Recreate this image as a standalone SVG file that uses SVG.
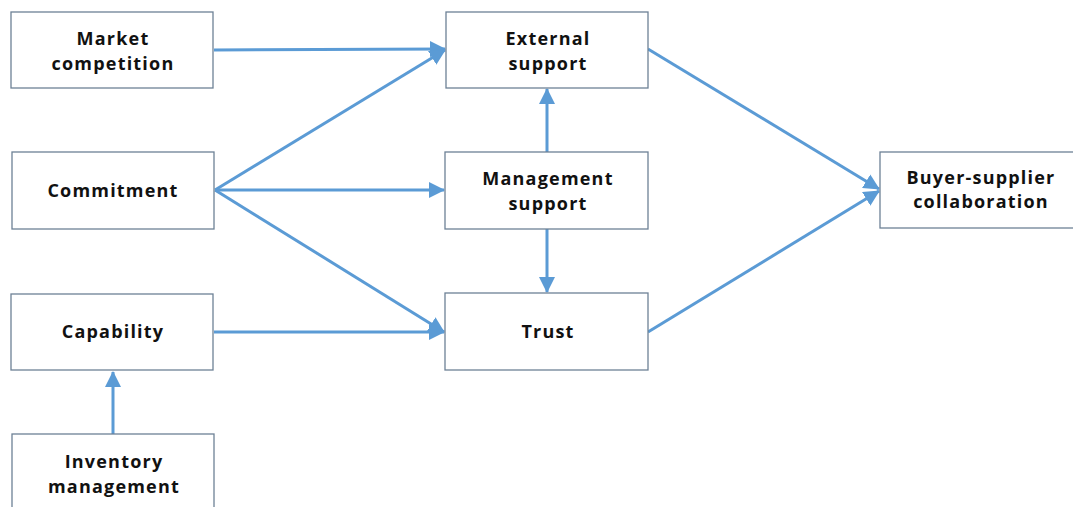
<svg xmlns="http://www.w3.org/2000/svg" width="1073" height="507" viewBox="0 0 1073 507">
  <style>
    .box { fill: #ffffff; stroke: #6d8196; stroke-width: 1.3; }
    .lbl { font-family: "Open Sans", "Liberation Sans", sans-serif; font-weight: bold; font-size: 18px; letter-spacing: 1.2px; fill: #111111; text-anchor: middle; }
    .edge { fill: none; stroke: #5b9bd5; stroke-width: 3; marker-end: url(#arrow); }
  </style>
  <defs>
    <marker id="arrow" markerUnits="userSpaceOnUse" markerWidth="16" markerHeight="16" refX="15" refY="8" orient="auto">
      <path d="M0,0 L16,8 L0,16 Z" fill="#5b9bd5"/>
    </marker>
  </defs>
  <rect width="1073" height="507" fill="#ffffff"/>

  <g id="connectors">
    <line class="edge" x1="214" y1="50" x2="445" y2="49"/>
    <line class="edge" x1="215" y1="190" x2="445" y2="50"/>
    <line class="edge" x1="215" y1="190" x2="444" y2="190"/>
    <line class="edge" x1="215" y1="190" x2="444" y2="332"/>
    <line class="edge" x1="214" y1="332" x2="444" y2="332"/>
    <line class="edge" x1="113" y1="434" x2="113" y2="372"/>
    <line class="edge" x1="547" y1="152" x2="547" y2="89"/>
    <line class="edge" x1="547" y1="229" x2="547" y2="292"/>
    <line class="edge" x1="648" y1="49" x2="879" y2="189"/>
    <line class="edge" x1="648" y1="332" x2="879" y2="191"/>
  </g>

  <g id="market-competition">
    <rect class="box" x="11" y="12" width="202" height="76"/>
    <text class="lbl" x="113" y="45">Market</text>
    <text class="lbl" x="113" y="70">competition</text>
  </g>
  <g id="commitment">
    <rect class="box" x="12" y="152" width="202" height="77"/>
    <text class="lbl" x="113" y="197">Commitment</text>
  </g>
  <g id="capability">
    <rect class="box" x="11" y="294" width="202" height="76"/>
    <text class="lbl" x="113" y="338">Capability</text>
  </g>
  <g id="inventory-management">
    <rect class="box" x="12" y="434" width="202" height="80"/>
    <text class="lbl" x="114" y="468">Inventory</text>
    <text class="lbl" x="114" y="493">management</text>
  </g>
  <g id="external-support">
    <rect class="box" x="446" y="12" width="202" height="76"/>
    <text class="lbl" x="548" y="45">External</text>
    <text class="lbl" x="548" y="70">support</text>
  </g>
  <g id="management-support">
    <rect class="box" x="445" y="152" width="203" height="77"/>
    <text class="lbl" x="548" y="185">Management</text>
    <text class="lbl" x="548" y="210">support</text>
  </g>
  <g id="trust">
    <rect class="box" x="445" y="293" width="203" height="77"/>
    <text class="lbl" x="548" y="338">Trust</text>
  </g>
  <g id="buyer-supplier-collaboration">
    <rect class="box" x="880" y="152" width="200" height="76"/>
    <text class="lbl" x="981" y="184">Buyer-supplier</text>
    <text class="lbl" x="981" y="208">collaboration</text>
  </g>
</svg>
